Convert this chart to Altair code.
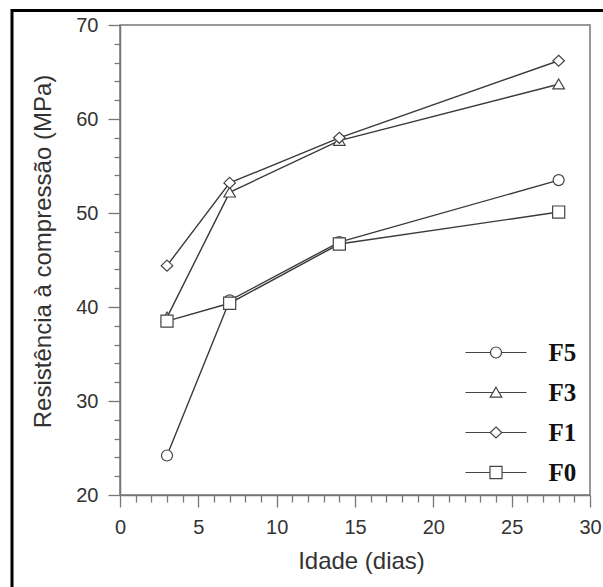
import altair as alt
import pandas as pd

# ---- data ----
ages = [3, 7, 14, 28]
series_names = ["F5", "F3", "F1", "F0"]
f5 = [24.2, 40.7, 46.9, 53.5]
f3 = [38.9, 52.2, 57.7, 63.7]
f1 = [44.4, 53.2, 58.0, 66.2]
f0 = [38.5, 40.4, 46.7, 50.1]
x_ticks = list(range(0, 31))
y_ticks = list(range(20, 71, 2))

values = {"F5": f5, "F3": f3, "F1": f1, "F0": f0}
rows = []
for name in series_names:
    for a, v in zip(ages, values[name]):
        rows.append({"serie": name, "idade": a, "res": v})
df = pd.DataFrame(rows)

# marker paths (unit box scaled by sqrt(size)/2)
circle = "M-1,0A1,1,0,1,0,1,0A1,1,0,1,0,-1,0Z"
tri = "M0,-0.95L1.05,0.85L-1.05,0.85Z"
diam = "M0,-1L1.05,0L0,1L-1.05,0Z"
sq = "M-1.1,-1.1L1.1,-1.1L1.1,1.1L-1.1,1.1Z"
pt_paths = [circle, tri, diam, sq]
L = 5.55
leg_paths = [
    f"M{-L},0L-1,0M1,0L{L},0" + circle,
    f"M{-L},0L-0.55,0M0.55,0L{L},0" + tri,
    f"M{-L},0L-1.05,0M1.05,0L{L},0" + diam,
    f"M{-L},0L-1.1,0M1.1,0L{L},0" + sq,
]

xscale = alt.Scale(domain=[0, 30], nice=False, zero=False)
yscale = alt.Scale(domain=[20, 70], nice=False, zero=False)

axis_common = dict(
    domainColor="#777", domainWidth=1.5, tickColor="#777", tickWidth=1.3,
    labelFont="Liberation Sans", labelFontSize=20, labelColor="#333",
    titleFont="Liberation Sans", titleFontSize=24, titleColor="#333",
    titleFontWeight="normal", labelOverlap=False, grid=False, labelFlush=False,
    titleBaseline="alphabetic", tickCount=200, format="d",
)

xaxis = alt.Axis(
    values=x_ticks, title="Idade (dias)",
    labelExpr="datum.value % 5 === 0 ? datum.label : ''",
    tickSize={"condition": {"test": "datum.value % 5 === 0", "value": 12}, "value": 7},
    labelPadding=10, titleX=241, titleY=73, titleAnchor="middle",
    **axis_common,
)
yaxis = alt.Axis(
    values=y_ticks, title="Resistência à compressão  (MPa)",
    labelExpr="datum.value % 10 === 0 ? datum.label : ''",
    tickSize={"condition": {"test": "datum.value % 10 === 0", "value": 12}, "value": 6},
    labelPadding=10, titleX=-70, titleY=226, titleAnchor="middle",
    **axis_common,
)

base = alt.Chart(df)

lines = base.mark_line(color="#3a3a3a", strokeWidth=1.4).encode(
    x=alt.X("idade:Q", scale=xscale, axis=xaxis),
    y=alt.Y("res:Q", scale=yscale, axis=yaxis),
    detail="serie:N",
)

points = base.mark_point(filled=False, fill="white", fillOpacity=1, stroke="#444",
                         strokeWidth=1.2, size=121, opacity=1).encode(
    x=alt.X("idade:Q", scale=xscale),
    y=alt.Y("res:Q", scale=yscale),
    shape=alt.Shape("serie:N", sort=series_names,
                    scale=alt.Scale(domain=series_names, range=pt_paths), legend=None),
)

legend_layer = base.mark_point(size=121, opacity=0).encode(
    x=alt.X("idade:Q", scale=xscale),
    y=alt.Y("res:Q", scale=yscale),
    shape=alt.Shape(
        "serie:N", sort=series_names,
        scale=alt.Scale(domain=series_names, range=leg_paths),
        legend=alt.Legend(
            title=None, orient="none", legendX=363.5, legendY=315, padding=0,
            symbolSize=121, symbolOpacity=1, symbolFillColor="white",
            symbolStrokeColor="#444", symbolStrokeWidth=1.2, symbolType="circle",
            labelFont="Liberation Serif", labelFontSize=25, labelFontWeight="bold",
            labelColor="#111", labelOffset=40, rowPadding=14,
        ),
    ),
)

frame = alt.Chart(pd.DataFrame({"k": [0]})).mark_rule(color="black", strokeWidth=3, clip=False)
frame_top = frame.encode(x=alt.value(-108), x2=alt.value(483), y=alt.value(-14.5))
frame_left = frame.encode(x=alt.value(-108), y=alt.value(-16), y2=alt.value(562))

chart = alt.layer(lines, points, legend_layer, frame_top, frame_left).resolve_scale(
    shape="independent"
).properties(
    width=470, height=470,
    padding={"left": 120, "top": 25, "right": 13, "bottom": 92},
    autosize=alt.AutoSizeParams(type="none"),
    background="white",
).configure_view(stroke="#777", strokeWidth=1.5)

chart.save("out.html", embed_options={"renderer": "svg", "actions": False})
